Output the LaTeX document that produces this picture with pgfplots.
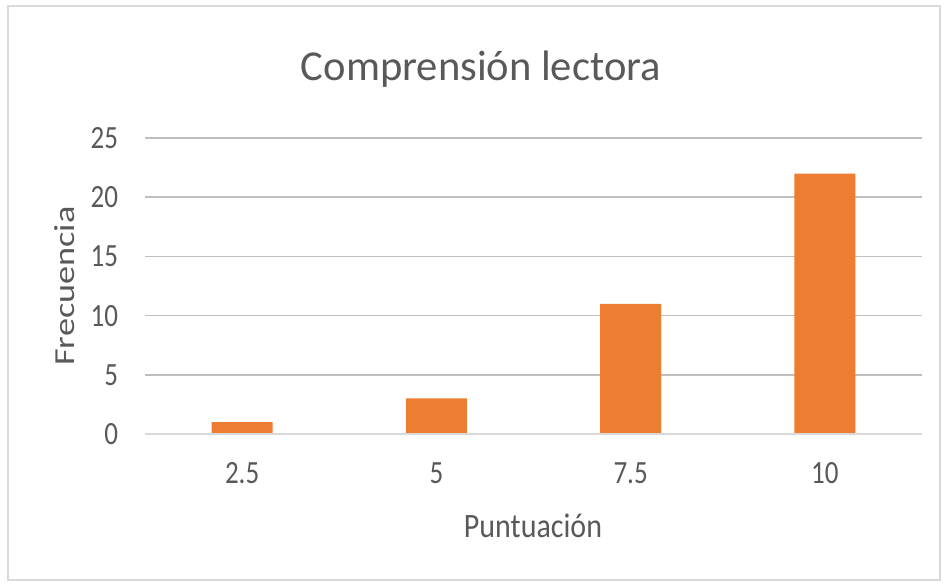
\documentclass[border=0pt]{standalone}
\usepackage{pgfplots}
\pgfplotsset{compat=1.18}
\usepackage{fontspec}
\setmainfont{Carlito}
\definecolor{txt}{HTML}{595959}
\definecolor{grid}{HTML}{D9D9D9}
\definecolor{bar}{HTML}{ED7D31}
\begin{document}
\begin{tikzpicture}[x=0.5pt,y=0.5pt]
\fill[white] (0,0) rectangle (945,586);
\draw[grid,line width=0.8pt] (8,6) rectangle (940,580);
\begin{axis}[
  at={(72.5pt,76pt)}, anchor=south west,
  scale only axis, width=388.5pt, height=148pt,
  ymin=0, ymax=25, ytick={0,5,...,25},
  xmin=-0.5, xmax=3.5,
  xtick=data, xticklabels={2.5,5,7.5,10},
  ybar, bar width=30.5pt,
  axis line style={draw=none},
  xmajorgrids=false, ymajorgrids=true, grid style={grid, line width=0.8pt},
  major tick length=0pt,
  tick label style={txt, font=\fontsize{13.5}{16}\selectfont, yscale=1.2},
  /pgf/number format/assume math mode=true,
  yticklabel style={anchor=east, xshift=-10pt},
  xticklabel style={anchor=base, yshift=-20.5pt},
  clip=false,
]
\addplot[fill=bar, draw=none] coordinates {(0,1) (1,3) (2,11) (3,22)};
\draw[grid, line width=1pt] (axis cs:-0.5,0) -- (axis cs:3.5,0);
\end{axis}
\node[txt, font=\fontsize{21.3}{25}\selectfont, anchor=base] at (481,506) {Comprensión lectora};
\node[txt, font=\fontsize{14.5}{17}\selectfont, rotate=90, xscale=1.25] at (65,300) {Frecuencia};
\node[txt, font=\fontsize{15}{18}\selectfont, anchor=base, yscale=1.14] at (533,49) {Puntuación};
\end{tikzpicture}
\end{document}
